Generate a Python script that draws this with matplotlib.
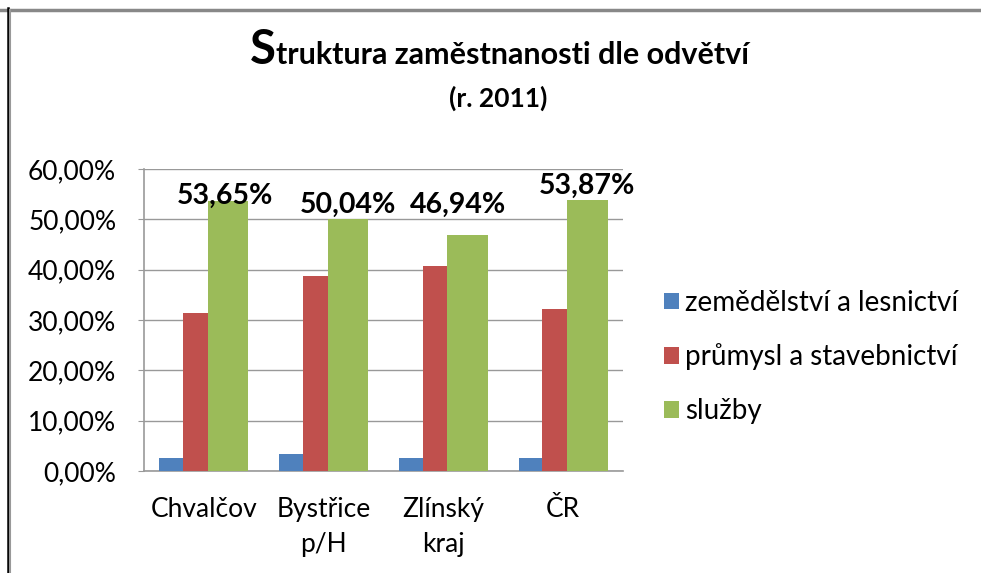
import numpy as np
import matplotlib
matplotlib.use("Agg")
import matplotlib.pyplot as plt
from matplotlib.lines import Line2D
from matplotlib.ticker import FuncFormatter, MultipleLocator

plt.rcParams['font.family'] = ['Lato', 'DejaVu Sans']

# data
categories = ['Chvalčov', 'Bystřice\np/H', 'Zlínský\nkraj', 'ČR']
series_names = ['zemědělství a lesnictví', 'průmysl a stavebnictví', 'služby']
zemedelstvi = [0.026, 0.033, 0.026, 0.026]
prumysl = [0.313, 0.388, 0.408, 0.321]
sluzby = [0.5365, 0.5004, 0.4694, 0.5387]
sluzby_labels = ['53,65%', '50,04%', '46,94%', '53,87%']

colors = ['#4F81BD', '#C0504D', '#9BBB59']
widths = [0.2, 0.205, 0.34]
# pixel offsets (dx, dy) of the labels above the green bars
label_offsets = [(-3, -3), (0, 6), (-10, 22), (0, 6)]

W, H = 981, 573
fig = plt.figure(figsize=(W / 100, H / 100), dpi=100)
ax = fig.add_axes([144 / W, 1 - 471 / H, (623 - 144) / W, (471 - 169) / H])

x = np.arange(len(categories))
start = -sum(widths) / 2
series = [zemedelstvi, prumysl, sluzby]
bars = []
for vals, w, c, name in zip(series, widths, colors, series_names):
    b = ax.bar(x + start + w / 2, vals, width=w, color=c, label=name, zorder=3)
    bars.append(b)
    start += w

pt = 72 / 100
for rect, txt, (dx, dy) in zip(bars[2], sluzby_labels, label_offsets):
    ax.annotate(txt, (rect.get_x() + rect.get_width() / 2, rect.get_height()),
                xytext=(dx * pt, dy * pt), textcoords='offset points',
                ha='center', va='baseline', fontsize=20.5, fontweight='bold',
                color='black', zorder=5)

ax.set_xlim(-0.5, len(categories) - 0.5)
ax.set_ylim(0, 0.6)
ax.yaxis.set_major_locator(MultipleLocator(0.1))
ax.yaxis.set_major_formatter(FuncFormatter(lambda v, p: f"{v * 100:.2f}%".replace('.', ',')))
ax.set_xticks(x)
ax.set_xticklabels(categories, fontsize=19, linespacing=1.5)
ax.tick_params(axis='y', labelsize=19, length=4, color='#999999', pad=16)
ax.tick_params(axis='x', length=0, pad=19)
ax.grid(axis='y', color='#999999', linewidth=1, zorder=0)
for s in ['top', 'right']:
    ax.spines[s].set_visible(False)
for s in ['left', 'bottom']:
    ax.spines[s].set_color('#999999')
    ax.spines[s].set_linewidth(1.2)

ax.legend(loc='center left', bbox_to_anchor=(664 / W, 1 - 357 / H),
          bbox_transform=fig.transFigure, frameon=False, fontsize=20,
          handlelength=0.55, handleheight=0.55, handletextpad=0.2,
          labelspacing=1.0, borderpad=0, borderaxespad=0)

# title with enlarged first letter
fig.canvas.draw()
r = fig.canvas.get_renderer()
ty = 1 - 64 / H
t1 = fig.text(0, ty, 'S', fontsize=34, fontweight='bold', va='baseline')
t2 = fig.text(0, ty, 'truktura zaměstnanosti dle odvětví', fontsize=22,
              fontweight='bold', va='baseline')
w1 = t1.get_window_extent(r).width
w2 = t2.get_window_extent(r).width
x0 = 499 - (w1 + w2) / 2
t1.set_x(x0 / W)
t2.set_x((x0 + w1 + 1) / W)
fig.text(498 / W, 1 - 107 / H, '(r. 2011)', fontsize=19, fontweight='bold',
         ha='center', va='baseline')

# outer frame
fig.add_artist(Line2D([0, 1], [1 - 9.5 / H] * 2, color='#888888', linewidth=2.5,
                      transform=fig.transFigure))
fig.add_artist(Line2D([8 / W] * 2, [0, 1 - 8 / H], color='black', linewidth=1.8,
                      transform=fig.transFigure))
fig.add_artist(Line2D([10 / W] * 2, [0, 1 - 10 / H], color='#999999', linewidth=1.5,
                      transform=fig.transFigure))

fig.savefig('out.png', dpi=100)
